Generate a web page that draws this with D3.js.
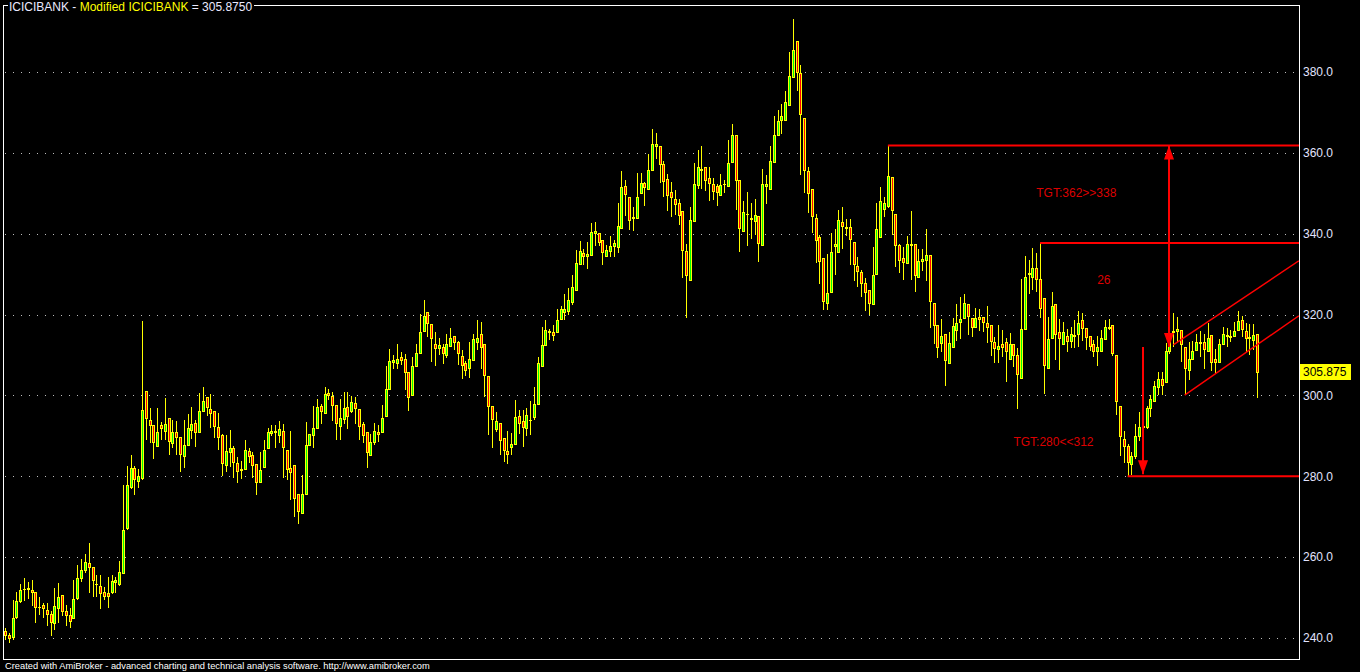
<!DOCTYPE html>
<html><head><meta charset="utf-8">
<script src="https://cdn.jsdelivr.net/npm/d3@7"></script>
<style>html,body{margin:0;padding:0;background:#000;overflow:hidden}svg{display:block}</style>
</head><body>
<svg id="chart" width="1360" height="672"></svg>
<script>
// ---------- DATA ----------
const openP = [
241.7,240.7,240.3,245.2,249.1,252.0,252.0,251.9,251.4,247.7,
248.2,247.0,246.0,243.7,247.4,250.7,246.7,245.8,245.0,249.9,
254.8,256.7,258.5,257.5,253.4,252.9,251.5,251.2,251.4,253.8,
253.3,256.1,267.2,277.3,282.1,278.9,279.5,301.1,293.9,292.7,
287.6,292.7,291.3,294.4,288.2,290.9,289.6,285.1,287.8,291.5,
293.1,290.9,296.2,299.5,296.6,296.1,292.1,290.2,282.9,285.9,
286.9,283.2,281.8,281.7,286.2,285.3,283.1,278.5,282.2,287.1,
290.8,291.1,290.1,291.1,286.5,282.0,282.8,275.7,270.9,275.5,
287.8,290.1,292.0,297.4,295.6,300.5,299.8,297.6,292.5,294.2,
297.1,296.2,298.1,296.6,292.9,290.9,285.3,288.6,290.9,290.9,
294.8,301.7,308.3,308.1,309.6,309.1,305.9,300.0,307.2,310.6,
316.0,320.7,317.6,312.7,311.7,312.1,310.0,312.3,314.6,313.1,
309.8,308.0,306.8,308.8,313.3,315.1,312.6,304.7,297.3,291.7,
293.3,289.4,286.3,287.2,288.1,294.8,293.6,291.9,293.9,294.6,
298.0,307.3,312.5,315.7,315.6,315.6,318.8,320.7,320.9,323.1,
326.1,332.6,335.3,334.5,334.7,340.2,340.2,338.5,334.6,335.7,
337.0,336.7,341.4,351.9,349.1,343.9,343.9,350.0,352.6,351.0,
355.7,361.8,361.7,357.3,353.6,350.2,348.6,347.6,345.7,335.8,
328.6,343.1,352.0,355.8,356.5,353.8,352.3,351.7,349.5,352.2,
351.8,357.7,364.5,353.2,340.6,344.8,343.7,343.1,344.4,337.2,
351.8,351.0,357.7,364.4,368.1,368.2,371.9,378.8,387.7,379.8,
368.5,355.4,351.0,343.8,339.1,333.9,322.8,325.7,337.0,335.5,
343.0,341.3,341.6,337.9,332.1,330.5,327.8,326.2,322.6,330.0,
339.3,346.1,346.9,354.0,344.8,337.1,334.0,332.8,337.1,337.4,
329.2,333.2,333.6,334.7,322.9,317.3,312.9,315.1,308.1,312.0,
316.1,318.1,319.1,322.5,319.2,316.9,319.4,319.4,317.9,317.4,
313.1,311.4,312.8,313.3,309.1,312.8,309.9,304.4,316.5,330.0,
329.4,331.6,328.9,324.0,306.7,314.2,322.6,315.6,312.8,314.6,
313.5,314.7,315.3,318.6,316.8,314.7,312.6,310.9,311.0,314.0,
316.8,317.5,310.1,297.5,289.2,287.6,283.1,285.1,290.0,292.1,
292.1,296.8,298.7,302.2,304.0,303.2,310.9,315.6,316.0,316.2,
311.9,306.3,309.0,311.2,312.9,313.1,310.9,314.9,309.0,308.3,
312.7,314.9,314.7,314.6,316.2,318.7,316.0,314.4,313.7,315.1];
const highP = [
242.5,241.3,249.5,251.4,253.4,254.9,253.8,254.4,251.4,250.1,
248.7,248.7,246.8,252.4,253.7,250.7,248.1,247.3,254.4,258.1,
259.6,260.8,263.6,257.5,255.7,255.7,252.6,255.1,255.7,255.1,
259.1,277.9,282.6,285.3,282.6,281.8,318.4,301.1,296.9,292.7,
296.9,293.5,299.4,294.4,293.8,293.6,289.6,294.0,295.4,297.2,
294.0,300.5,302.1,299.5,300.3,296.1,295.6,290.5,290.2,291.5,
287.5,284.7,283.7,289.0,286.9,285.9,283.1,285.9,289.0,291.9,
292.7,292.7,293.7,292.9,286.5,291.1,282.8,275.7,280.2,293.5,
289.0,297.4,299.1,297.9,302.2,301.6,300.9,297.6,299.1,300.8,
300.8,299.9,299.5,296.6,293.5,290.9,290.5,293.1,292.7,297.6,
307.2,311.6,310.0,312.7,310.8,310.2,305.9,309.6,312.7,320.2,
323.5,320.7,317.6,315.8,314.1,312.7,315.3,316.8,314.6,313.5,
311.2,308.6,313.1,315.1,318.6,318.2,312.6,304.7,297.3,295.8,
293.3,289.4,291.1,290.7,298.9,296.4,296.4,297.0,298.5,302.0,
309.4,317.0,318.6,316.4,317.4,321.3,322.0,325.0,326.5,329.7,
335.9,338.1,336.1,338.0,342.7,343.0,340.2,338.5,337.2,339.5,
338.4,347.5,355.6,353.4,349.1,346.7,355.1,354.9,352.8,359.6,
366.0,364.8,361.7,357.9,354.7,352.9,350.9,348.5,345.7,337.5,
346.7,357.4,360.6,361.8,356.5,356.6,353.8,352.2,354.7,353.2,
363.3,367.2,364.5,353.2,348.2,350.3,347.5,348.7,344.4,355.9,
354.5,361.7,369.2,370.7,372.2,375.4,384.9,393.2,387.7,381.8,
368.5,356.6,351.0,345.0,339.8,333.9,334.9,340.1,341.1,345.8,
346.7,343.6,343.6,337.9,334.2,331.1,329.0,326.2,336.7,347.7,
351.5,349.2,362.0,354.0,344.8,337.5,336.7,339.5,345.7,337.4,
336.2,336.2,341.2,334.7,322.9,317.3,318.8,315.1,315.7,319.2,
322.5,324.3,325.2,322.5,319.2,321.6,321.5,319.4,322.0,317.4,
314.5,317.3,316.3,314.2,315.5,312.8,311.7,328.7,334.6,333.5,
336.5,335.3,337.8,324.0,319.5,325.7,322.6,318.9,318.2,316.4,
317.0,318.6,320.9,320.5,316.8,314.7,313.7,314.7,316.1,318.7,
318.9,317.5,310.1,297.5,291.3,288.0,286.0,293.0,296.0,297.5,
297.5,300.0,303.5,305.8,305.8,313.0,315.5,320.3,319.3,316.2,
311.9,313.2,313.5,315.1,315.9,315.1,318.0,314.9,311.4,313.9,
317.0,316.8,316.2,318.2,320.9,319.7,317.9,317.6,317.6,315.1];
const lowP = [
239.7,239.0,239.8,245.0,248.9,249.3,249.9,248.1,244.0,246.0,
245.2,243.1,240.7,242.3,244.0,245.8,243.1,242.7,245.0,249.7,
254.0,256.3,251.5,250.3,250.5,247.3,249.7,247.7,251.2,251.5,
253.0,256.0,267.0,277.0,275.5,277.3,279.4,289.2,288.4,284.5,
287.6,289.2,289.2,285.5,287.2,285.5,281.2,282.2,287.8,289.4,
287.6,290.9,296.2,295.2,292.1,289.8,286.8,280.3,281.4,282.6,
279.8,278.7,279.6,281.7,283.5,279.9,275.5,278.5,282.2,287.1,
290.1,287.2,288.6,279.9,279.4,274.4,270.3,268.5,270.9,275.5,
287.8,287.2,292.0,293.3,295.6,299.1,294.0,289.2,289.2,293.3,
291.9,295.8,293.3,289.2,288.4,282.4,285.3,288.0,288.8,290.9,
294.8,301.7,306.7,306.7,307.7,301.7,296.5,300.0,307.2,310.6,
316.0,314.7,308.6,307.6,310.2,308.0,309.6,312.3,311.4,307.7,
304.4,305.0,304.6,308.8,311.4,306.8,299.9,290.5,287.2,291.3,
285.5,283.9,283.3,285.5,288.1,290.7,287.6,290.3,290.5,294.2,
298.0,307.3,312.5,313.9,313.7,315.6,318.8,318.8,320.1,322.5,
326.1,332.6,332.6,331.5,334.7,337.3,337.1,332.4,334.5,334.5,
334.5,335.5,341.4,344.7,341.2,341.0,343.9,350.0,347.1,351.0,
355.7,358.8,352.8,349.3,345.8,344.4,344.8,342.3,329.3,319.4,
328.6,343.1,351.2,351.4,350.9,348.3,348.5,347.2,349.5,350.3,
351.8,357.7,346.2,335.7,340.6,337.1,339.0,340.0,333.2,337.2,
347.5,351.0,357.7,364.4,364.8,368.2,371.9,378.8,375.6,354.7,
350.3,345.4,340.4,333.0,327.7,321.3,321.3,325.7,330.0,335.5,
336.5,339.8,332.5,328.5,327.0,324.5,321.2,320.2,322.6,330.0,
339.3,344.3,346.7,340.0,331.9,330.5,328.9,332.8,328.9,325.8,
329.2,331.1,328.5,316.9,312.9,309.5,310.9,302.5,308.1,312.0,
313.8,314.1,319.1,315.2,314.6,316.9,316.3,316.0,313.2,310.1,
308.2,308.2,309.7,303.5,309.1,307.2,296.8,304.4,316.5,325.4,
326.4,325.8,319.5,300.6,306.7,314.2,309.0,306.5,312.8,310.9,
311.9,311.9,312.3,313.8,311.4,311.2,309.8,307.5,311.0,314.0,
316.4,310.0,295.4,285.3,283.5,280.3,280.5,284.5,289.0,290.0,
292.0,295.0,298.5,300.3,300.4,303.2,310.5,312.3,313.5,308.6,
300.3,304.0,309.0,311.2,309.8,306.9,310.9,306.3,305.8,308.3,
312.7,312.3,313.5,314.6,316.2,314.6,311.0,310.2,311.4,299.5];
const closeP = [
240.7,240.0,245.0,249.1,251.8,252.2,252.4,251.5,247.7,247.6,
247.4,245.9,244.0,247.9,250.1,246.8,245.7,244.1,249.7,254.8,
256.7,258.8,257.5,254.3,253.4,251.1,250.5,250.5,254.1,254.4,
256.3,266.8,277.9,282.1,279.4,280.0,296.4,294.3,292.8,288.6,
290.9,291.9,292.9,288.7,290.9,289.6,285.4,287.7,291.9,292.9,
290.9,296.1,298.5,297.1,295.6,292.5,289.6,283.2,286.2,286.9,
283.6,281.4,281.5,286.5,285.1,282.9,278.7,281.6,286.5,290.9,
291.1,290.9,291.7,287.2,281.7,281.0,274.7,271.3,275.7,287.7,
290.5,292.0,297.2,296.2,300.3,300.2,297.6,293.2,294.3,296.9,
295.0,298.3,297.0,292.5,290.3,285.9,288.6,291.3,290.5,294.3,
301.7,308.4,308.7,309.1,308.8,305.9,299.5,307.2,310.4,315.8,
319.7,317.8,314.1,311.7,312.4,310.6,312.8,314.3,313.3,310.4,
307.6,306.3,309.0,313.9,314.3,312.1,305.1,297.3,294.2,293.6,
289.0,286.6,285.6,287.9,294.6,293.3,292.1,295.2,294.0,297.8,
308.0,312.4,316.1,316.0,315.0,318.6,321.3,321.3,323.5,326.7,
332.7,335.8,334.5,334.9,340.5,340.7,337.9,335.5,335.9,337.0,
337.6,341.9,351.6,349.8,343.4,344.2,349.1,352.6,351.5,355.8,
362.2,362.3,357.3,353.0,349.5,349.2,347.4,344.6,336.0,329.8,
343.5,352.3,356.5,356.1,353.2,352.5,350.5,350.3,352.1,352.4,
357.5,364.5,353.2,341.5,345.4,345.0,344.0,344.7,337.8,352.2,
352.2,358.1,364.3,368.0,369.0,372.7,379.1,385.5,379.9,369.6,
355.7,350.1,344.4,338.4,333.3,323.4,325.3,335.6,337.4,343.5,
341.8,341.6,338.7,332.5,330.8,327.8,325.6,322.9,329.8,341.2,
348.2,347.6,354.3,345.8,337.1,333.4,332.9,337.5,337.4,329.7,
333.2,333.8,334.7,323.3,317.4,312.0,314.8,308.7,313.0,317.1,
317.8,318.9,322.9,319.6,316.9,319.2,318.9,318.1,316.9,313.4,
311.7,312.3,312.0,310.9,312.8,310.0,305.4,316.5,329.4,330.4,
331.4,328.9,321.7,307.5,313.9,322.0,315.3,314.1,315.6,313.5,
315.3,315.0,318.0,316.6,314.5,312.3,310.9,311.9,314.1,317.0,
317.0,310.5,298.7,289.9,287.6,283.5,285.1,290.0,292.1,292.4,
296.8,299.1,302.4,304.0,302.6,310.9,313.5,316.0,316.5,312.7,
306.7,309.0,310.9,313.3,313.3,311.6,314.1,308.3,308.2,312.7,
315.3,314.7,314.5,316.0,318.4,316.4,314.1,314.2,314.9,305.875];

const yTicks = [240, 260, 280, 300, 320, 340, 360, 380];
const lastValue = 305.875;
const titleParts = ["ICICIBANK - ", "Modified ICICIBANK", " = 305.8750"];
const footerText = "Created with AmiBroker - advanced charting and technical analysis software. http://www.amibroker.com";

// annotations (bar index, price)
const levelStart = [232, 272, 295];
const levelPrice = [361.8, 337.7, 280.0];
const arrowIdx = [306, 299];
const arrowFrom = [312.0, 312.0];
const arrowTo = [361.8, 280.5];
const arrowBoth = [true, false];
const channelUpper = [[307, 312.5], [340, 333.3]];
const channelLower = [[310, 300.1], [340, 319.7]];
const noteText = ["TGT:362>>338", "26", "TGT:280<<312"];
const noteIdx = [271, 287, 265];
const notePrice = [349.1, 327.6, 287.5];

// ---------- CHART ----------
(function () {
const svg = d3.select("#chart");
const W = 1360, H = 672;
const pL = 3, pR = 1300, pT = 5, pB = 659;
const FONT = "'Liberation Sans', Arial, sans-serif";
const N = closeP.length;

svg.append("rect").attr("width", W).attr("height", H).attr("fill", "#000");

const x = d3.scaleLinear().domain([0, N - 1]).range([5, 1257]);
const y = d3.scaleLinear().domain([240, 380]).range([638, 72]);

svg.append("defs").append("clipPath").attr("id", "plot")
  .append("rect").attr("x", pL + 1).attr("y", pT + 1)
  .attr("width", pR - pL - 2).attr("height", pB - pT - 1);

// grid
svg.append("g").selectAll("line").data(yTicks).join("line")
  .attr("x1", 5).attr("x2", 1294)
  .attr("y1", d => Math.round(y(d)) + 0.5).attr("y2", d => Math.round(y(d)) + 0.5)
  .attr("stroke", "#bdbdbd").attr("stroke-width", 1)
  .attr("stroke-dasharray", "1,7");

// candles
const candles = d3.range(N).map(i => ({ i, o: openP[i], h: highP[i], l: lowP[i], c: closeP[i] }));
const cg = svg.append("g").attr("shape-rendering", "crispEdges").attr("clip-path", "url(#plot)");
const cx = d => Math.round(x(d.i));
const yHi = d => Math.round(y(Math.max(d.h, d.o, d.c)));
const yLo = d => Math.round(y(Math.min(d.l, d.o, d.c)));
const yTop = d => Math.round(y(Math.max(d.o, d.c)));
const yBot = d => Math.round(y(Math.min(d.o, d.c)));

cg.selectAll("rect.wick").data(candles).join("rect").attr("class", "wick")
  .attr("x", cx).attr("width", 1)
  .attr("y", yHi).attr("height", d => yLo(d) - yHi(d) + 1)
  .attr("fill", "#ffff00");

cg.selectAll("rect.body").data(candles).join("rect").attr("class", "body")
  .attr("x", d => cx(d) - 1).attr("width", 3)
  .attr("y", yTop).attr("height", d => yBot(d) - yTop(d) + 1)
  .attr("fill", "#ffff00");

cg.selectAll("rect.fill").data(candles.filter(d => yBot(d) - yTop(d) - 1 > 0)).join("rect").attr("class", "fill")
  .attr("x", cx).attr("width", 1)
  .attr("y", d => yTop(d) + 1).attr("height", d => yBot(d) - yTop(d) - 1)
  .attr("fill", d => d.c > d.o ? "#00ff00" : "#ff0000");

// annotations
const ag = svg.append("g").attr("clip-path", "url(#plot)");
const RED = "#ff0000";
levelStart.forEach((s, k) => {
  ag.append("line")
    .attr("x1", x(s)).attr("x2", x(N + 20))
    .attr("y1", y(levelPrice[k])).attr("y2", y(levelPrice[k]))
    .attr("stroke", RED).attr("stroke-width", 2);
});
arrowIdx.forEach((a, k) => {
  const ax = Math.round(x(a));
  const y1 = y(arrowFrom[k]), y2 = y(arrowTo[k]);
  ag.append("line").attr("x1", ax).attr("x2", ax).attr("y1", y1).attr("y2", y2)
    .attr("stroke", RED).attr("stroke-width", 2);
  const head = (tipY, dir) => {
    ag.append("path")
      .attr("d", `M${ax},${tipY} L${ax - 5},${tipY - dir * 14} L${ax + 5},${tipY - dir * 14} Z`)
      .attr("fill", RED);
  };
  const dir2 = y2 > y1 ? 1 : -1;
  head(y2, dir2);
  if (arrowBoth[k]) head(y1, -dir2);
});
[channelUpper, channelLower].forEach(seg => {
  ag.append("line")
    .attr("x1", x(seg[0][0])).attr("y1", y(seg[0][1]))
    .attr("x2", x(seg[1][0])).attr("y2", y(seg[1][1]))
    .attr("stroke", RED).attr("stroke-width", 1.5);
});
noteText.forEach((t, k) => {
  ag.append("text").attr("x", x(noteIdx[k])).attr("y", y(notePrice[k]))
    .attr("fill", "#dd0000").attr("font-family", FONT).attr("font-size", 12).text(t);
});

// frame
const fr = svg.append("g").attr("stroke", "#ffffff").attr("stroke-width", 1).attr("shape-rendering", "crispEdges");
fr.append("line").attr("x1", pL + 0.5).attr("x2", pL + 0.5).attr("y1", pT).attr("y2", pB + 1);
fr.append("line").attr("x1", pR - 0.5).attr("x2", pR - 0.5).attr("y1", pT).attr("y2", pB + 1);
fr.append("line").attr("x1", pL).attr("x2", pR).attr("y1", pB + 0.5).attr("y2", pB + 0.5);

// title
const title = svg.append("text").attr("x", 9).attr("y", 11)
  .attr("font-family", FONT).attr("font-size", 12).attr("style", "white-space:pre");
const tColors = ["#eaeaff", "#ffff00", "#eaeaff"];
titleParts.forEach((p, k) => title.append("tspan").attr("fill", tColors[k]).text(p));
const tw = title.node().getComputedTextLength();
fr.append("line").attr("x1", pL).attr("x2", 8).attr("y1", pT + 0.5).attr("y2", pT + 0.5);
fr.append("line").attr("x1", 9 + tw + 2).attr("x2", pR).attr("y1", pT + 0.5).attr("y2", pT + 0.5);

// y axis
const axis = svg.append("g").attr("transform", `translate(${pR},0)`)
  .call(d3.axisRight(y).tickValues(yTicks).tickFormat(d3.format(".1f")).tickSize(0).tickPadding(3));
axis.select(".domain").remove();
axis.selectAll("text").attr("fill", "#e2e4ff").attr("font-family", FONT).attr("font-size", 12);

// last value marker
const ly = y(lastValue);
svg.append("rect").attr("x", pR).attr("y", Math.round(ly) - 8).attr("width", 51).attr("height", 16).attr("fill", "#ffff00");
svg.append("text").attr("x", pR + 3).attr("y", Math.round(ly) + 4)
  .attr("fill", "#000").attr("font-family", FONT).attr("font-size", 12).text(d3.format(".3f")(lastValue));

// footer
svg.append("text").attr("x", 5).attr("y", 669).attr("fill", "#ffffff")
  .attr("font-family", FONT).attr("font-size", 9.3).text(footerText);
})();
</script>
</body></html>
